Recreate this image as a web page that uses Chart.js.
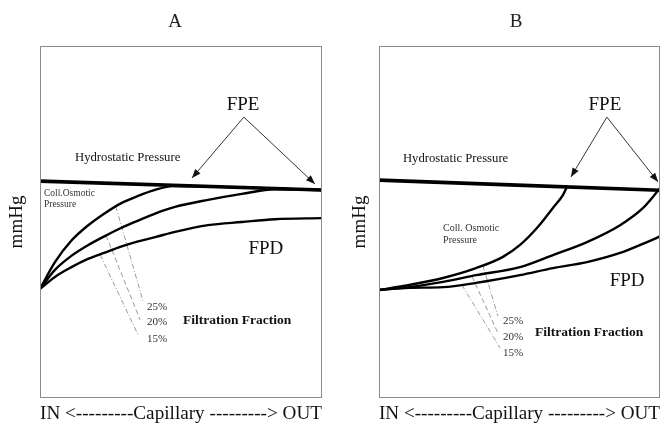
<!DOCTYPE html>
<html>
<head>
<meta charset="utf-8">
<script src="https://cdn.jsdelivr.net/npm/chart.js@4.4.1/dist/chart.umd.min.js"></script>
<style>
  html, body { margin: 0; padding: 0; background: #fff; }
  #wrap { position: relative; width: 666px; height: 426px; }
  .panel { position: absolute; top: 0; width: 333px; height: 426px; }
  .heading { position: absolute; top: 10px; width: 40px; text-align: center;
             font: 19px 'Liberation Serif', 'DejaVu Serif', serif; color: #222; }
</style>
</head>
<body>
<div id="wrap">
  <div class="panel" style="left:0"><canvas id="chartA"></canvas></div>
  <div class="panel" style="left:333px"><canvas id="chartB"></canvas></div>
  <div class="heading" style="left:155px">A</div>
  <div class="heading" style="left:496px">B</div>
</div>
<script>
// Panel A: pressures along the capillary (arbitrary mmHg units, 0-100)
const aHydroX = [0, 100]
const aHydroY = [61.6, 59.1]
const a25X = [0, 5.3, 11.0, 17.0, 23.0, 28.7, 34.8, 40.8, 47.0, 100]
const a25Y = [31.0, 38.6, 44.6, 49.0, 52.5, 55.3, 57.4, 59.1, 60.2, 59.1]
const a20X = [0, 5.3, 11.0, 17.0, 23.0, 28.7, 34.8, 40.8, 47.9, 59.6, 71.6, 83.3, 100]
const a20Y = [31.0, 36.4, 40.3, 43.4, 46.0, 48.3, 50.4, 52.4, 54.3, 56.3, 58.0, 59.3, 59.1]
const a15X = [0, 5.3, 11.0, 17.0, 23.0, 28.7, 34.8, 40.8, 47.9, 59.6, 71.6, 83.3, 100]
const a15Y = [31.0, 34.4, 37.1, 39.5, 41.3, 43.0, 44.5, 45.7, 47.2, 49.1, 50.0, 50.8, 51.1]

// Panel B
const bHydroX = [0, 100]
const bHydroY = [61.9, 59.0]
const b25X = [0, 10.7, 22.8, 34.5, 44.1, 50.2, 56.2, 61.9, 65.5, 66.9]
const b25Y = [30.7, 32.1, 34.1, 36.9, 40.1, 43.5, 48.3, 54.0, 57.7, 60.0]
const b20X = [0, 10.7, 22.8, 34.5, 50.2, 61.9, 74.0, 85.8, 94.0, 98.9, 100]
const b20Y = [30.7, 31.5, 33.0, 34.9, 37.2, 40.6, 44.3, 49.1, 54.0, 58.5, 59.6]
const b15X = [0, 10.7, 22.8, 34.5, 50.2, 61.9, 74.0, 85.8, 95.4, 100]
const b15Y = [30.7, 31.3, 31.5, 32.7, 34.9, 36.9, 38.6, 41.2, 44.3, 45.9]

// filtration fraction labels and leader lines [startX, startY, endX, endY]
const fractionLabels = ['25%', '20%', '15%']
const aLeaders = [[26.9, 54.4, 36.5, 27.6], [23.4, 46.2, 35.5, 22.2], [21.3, 40.7, 34.8, 17.9]]
const bLeaders = [[37.0, 37.6, 42.3, 23.3], [33.1, 34.5, 42.3, 18.5], [29.5, 32.1, 43.1, 14.2]]

const serif = "'Liberation Serif', 'DejaVu Serif', serif"

function pts(xs, ys) {
  return xs.map((x, i) => ({ x: x, y: ys[i] }))
}

function curve(xs, ys, width) {
  return {
    data: pts(xs, ys),
    borderColor: '#000',
    borderWidth: width,
    pointRadius: 0,
    cubicInterpolationMode: 'monotone'
  }
}

function leader(l, dash) {
  return {
    data: [{ x: l[0], y: l[1] }, { x: l[2], y: l[3] }],
    borderColor: '#9a9a9a',
    borderWidth: 1,
    borderDash: dash,
    pointRadius: 0
  }
}

// frame, FPE arrows and the text notes, placed in data units
const panelDecor = {
  id: 'panelDecor',
  afterDatasetsDraw(chart, args, opts) {
    const { ctx, chartArea: a, scales: { x, y } } = chart
    ctx.save()
    ctx.strokeStyle = '#8c8c8c'
    ctx.lineWidth = 1
    ctx.strokeRect(a.left + 0.5, a.top + 0.5, a.right - a.left - 1, a.bottom - a.top - 1)

    const ax = x.getPixelForValue(opts.apex[0])
    const ay = y.getPixelForValue(opts.apex[1])
    opts.tips.forEach((t) => {
      const tx = x.getPixelForValue(t[0])
      const ty = y.getPixelForValue(t[1])
      const ang = Math.atan2(ty - ay, tx - ax)
      ctx.strokeStyle = '#333'
      ctx.lineWidth = 1
      ctx.beginPath()
      ctx.moveTo(ax, ay)
      ctx.lineTo(tx, ty)
      ctx.stroke()
      ctx.fillStyle = '#111'
      ctx.beginPath()
      ctx.moveTo(tx, ty)
      ctx.lineTo(tx - 9 * Math.cos(ang) + 3.5 * Math.sin(ang), ty - 9 * Math.sin(ang) - 3.5 * Math.cos(ang))
      ctx.lineTo(tx - 9 * Math.cos(ang) - 3.5 * Math.sin(ang), ty - 9 * Math.sin(ang) + 3.5 * Math.cos(ang))
      ctx.closePath()
      ctx.fill()
    })

    ctx.textBaseline = 'middle'
    opts.notes.forEach((n) => {
      ctx.font = n.font
      ctx.fillStyle = n.color || '#111'
      ctx.textAlign = n.align || 'left'
      ctx.fillText(n.text, x.getPixelForValue(n.x), y.getPixelForValue(n.y))
    })
    ctx.restore()
  }
}

function makeChart(id, series, leaders, decor, pad, yTitlePad) {
  const datasets = [
    curve(series[0][0], series[0][1], 3.6),
    curve(series[1][0], series[1][1], 2.4),
    curve(series[2][0], series[2][1], 2.4),
    curve(series[3][0], series[3][1], 2.4),
    leader(leaders[0], [5, 2, 1, 2]),
    leader(leaders[1], [5, 3]),
    leader(leaders[2], [5, 2, 1, 2])
  ]
  return new Chart(document.getElementById(id), {
    type: 'line',
    data: { datasets: datasets },
    options: {
      responsive: true,
      maintainAspectRatio: false,
      animation: false,
      layout: { padding: pad },
      plugins: {
        legend: { display: false },
        tooltip: { enabled: false },
        panelDecor: decor
      },
      scales: {
        x: {
          type: 'linear',
          min: 0,
          max: 100,
          ticks: { display: false },
          grid: { display: false, drawTicks: false },
          border: { display: false },
          title: {
            display: true,
            text: 'IN <---------Capillary ---------> OUT',
            color: '#111',
            font: { family: serif, size: 19.5 },
            padding: { top: 4.6, bottom: 0 }
          }
        },
        y: {
          min: 0,
          max: 100,
          ticks: { display: false },
          grid: { display: false, drawTicks: false },
          border: { display: false },
          title: {
            display: true,
            text: 'mmHg',
            color: '#111',
            font: { family: serif, size: 19 },
            padding: yTitlePad
          }
        }
      }
    },
    plugins: [panelDecor]
  })
}

function notesFor(p) {
  return [
    { text: 'FPE', x: p.fpe[0], y: p.fpe[1], font: '19px ' + serif, align: 'center' },
    { text: 'Hydrostatic Pressure', x: p.hydro[0], y: p.hydro[1], font: '12.7px ' + serif },
    { text: p.coll, x: p.osm[0], y: p.osm[1], font: p.osmSize + 'px ' + serif, color: '#333' },
    { text: 'Pressure', x: p.osm[0], y: p.osm[2], font: p.osmSize + 'px ' + serif, color: '#333' },
    { text: 'FPD', x: p.fpd[0], y: p.fpd[1], font: '19px ' + serif, align: 'center' },
    { text: fractionLabels[0], x: p.pct[0], y: p.pct[1], font: '11px ' + serif, color: '#333' },
    { text: fractionLabels[1], x: p.pct[0], y: p.pct[2], font: '11px ' + serif, color: '#333' },
    { text: fractionLabels[2], x: p.pct[0], y: p.pct[3], font: '11px ' + serif, color: '#333' },
    { text: 'Filtration Fraction', x: p.ff[0], y: p.ff[1], font: 'bold 13.5px ' + serif }
  ]
}

makeChart('chartA',
  [[aHydroX, aHydroY], [a25X, a25Y], [a20X, a20Y], [a15X, a15Y]],
  aLeaders,
  {
    apex: [72.3, 79.8],
    tips: [[53.9, 62.5], [97.5, 60.8]],
    notes: notesFor({
      fpe: [72.0, 83.2], hydro: [12.4, 68.2], coll: 'Coll.Osmotic', osm: [1.4, 58.2, 55.1], osmSize: 9.5,
      fpd: [80.1, 42.3], pct: [37.9, 25.9, 21.6, 16.8], ff: [50.7, 21.9]
    })
  },
  { left: 2, right: 11, top: 46, bottom: 0 },
  { top: 3.6, bottom: 11.6 }
)

makeChart('chartB',
  [[bHydroX, bHydroY], [b25X, b25Y], [b20X, b20Y], [b15X, b15Y]],
  bLeaders,
  {
    apex: [81.1, 79.8],
    tips: [[68.3, 62.8], [99.3, 61.4]],
    notes: notesFor({
      fpe: [80.4, 83.2], hydro: [8.5, 67.9], coll: 'Coll. Osmotic', osm: [22.8, 48.3, 44.9], osmSize: 10,
      fpd: [88.3, 33.2], pct: [44.1, 21.9, 17.3, 12.8], ff: [55.5, 18.5]
    })
  },
  { left: 10, right: 6, top: 46, bottom: 0 },
  { top: 5.6, bottom: 7.6 }
)
</script>
</body>
</html>
